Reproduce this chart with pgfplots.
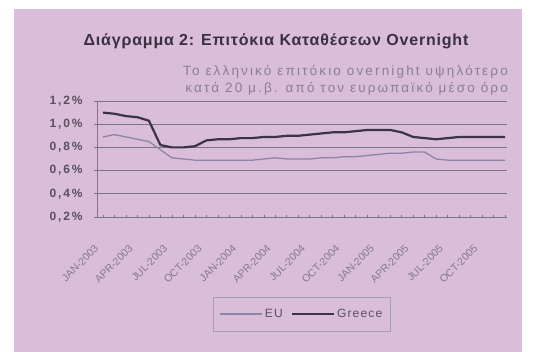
\documentclass[border=0pt]{standalone}
\usepackage{pgfplots}
\pgfplotsset{compat=1.18}
\usepackage{fontspec}
\setmainfont{Liberation Sans}
\newfontfamily\titlefont[LetterSpace=5]{Liberation Sans}
\newfontfamily\subfont[LetterSpace=16]{Liberation Sans}
\newfontfamily\tickfont[LetterSpace=15]{Liberation Sans}
\newfontfamily\legfont[LetterSpace=10]{Liberation Sans}
\definecolor{bg}{HTML}{D9BDD9}
\definecolor{greecec}{HTML}{3C3444}
\definecolor{euc}{HTML}{8C86A6}
\definecolor{gridc}{HTML}{7E7488}
\definecolor{titlec}{HTML}{3A3040}
\definecolor{subc}{HTML}{8A8092}
\definecolor{tickc}{HTML}{5A5060}
\definecolor{xtickc}{HTML}{857A8C}
\begin{document}
\begin{tikzpicture}
\path[use as bounding box] (0pt,0pt) rectangle (535pt,352pt);
\fill[white] (0pt,0pt) rectangle (535pt,352pt);
\fill[bg] (14pt,0pt) rectangle (522pt,343pt);
\node[font=\titlefont\bfseries\fontsize{16}{18}\selectfont, text=titlec, inner sep=0pt] at (276pt,311pt) {Διάγραμμα 2: Επιτόκια Καταθέσεων Overnight};
\node[anchor=east, inner sep=0pt, font=\subfont\fontsize{13.5}{15}\selectfont, text=subc] at (508pt,280pt) {Το ελληνικό επιτόκιο overnight υψηλότερο};
\node[anchor=east, inner sep=0pt, font=\subfont\fontsize{13.5}{15}\selectfont, text=subc] at (508pt,263pt) {κατά 20 μ.β. από τον ευρωπαϊκό μέσο όρο};
\begin{axis}[
  at={(97pt,135pt)}, anchor=south west,
  scale only axis, width=410pt, height=116pt,
  xmin=-0.52, xmax=35.17, ymin=0.2, ymax=1.2,
  axis x line*=bottom, axis y line*=left,
  axis line style={gridc, line width=0.8pt, -},
  ytick={0.2,0.4,0.6,0.8,1.0,1.2},
  yticklabels={{0,2\%},{0,4\%},{0,6\%},{0,8\%},{1,0\%},{1,2\%}},
  ymajorgrids, major grid style={gridc, line width=0.8pt},
  y tick label style={font=\tickfont\bfseries\fontsize{12}{14}\selectfont, text=tickc, xshift=-8pt},
  xtick={0,3,...,33},
  xticklabels={JAN-2003,APR-2003,JUL-2003,OCT-2003,JAN-2004,APR-2004,JUL-2004,OCT-2004,JAN-2005,APR-2005,JUL-2005,OCT-2005},
  minor xtick={0,1,...,35},
  x tick label style={font=\fontsize{10.5}{12}\selectfont, text=xtickc, xshift=-4pt, yshift=-26pt, rotate=45, anchor=east},
  tick style={gridc, line width=0.6pt},
  major tick length=3pt, minor tick length=3pt,
  xtick align=center, ytick align=outside,
  legend columns=2,
  legend style={at={(0.5,-0.836)}, anchor=center, draw=gridc!70, fill=bg, font=\legfont\fontsize{12}{14}\selectfont, text=tickc, inner xsep=6pt, inner ysep=10pt, /tikz/every even column/.append style={column sep=6pt}},
  legend image code/.code={\draw[#1] (0pt,0pt) -- (42pt,0pt);},
]
\addplot[euc, line width=1.3pt] coordinates {
(0,0.89)(1,0.91)(2,0.89)(3,0.87)(4,0.85)(5,0.78)(6,0.71)(7,0.70)(8,0.69)(9,0.69)
(10,0.69)(11,0.69)(12,0.69)(13,0.69)(14,0.70)(15,0.71)(16,0.70)(17,0.70)(18,0.70)(19,0.71)
(20,0.71)(21,0.72)(22,0.72)(23,0.73)(24,0.74)(25,0.75)(26,0.75)(27,0.76)(28,0.76)(29,0.70)
(30,0.69)(31,0.69)(32,0.69)(33,0.69)(34,0.69)(35,0.69)};
\addlegendentry{EU}
\addplot[greecec, line width=2.2pt] coordinates {
(0,1.10)(1,1.09)(2,1.07)(3,1.06)(4,1.03)(5,0.82)(6,0.80)(7,0.80)(8,0.81)(9,0.86)
(10,0.87)(11,0.87)(12,0.88)(13,0.88)(14,0.89)(15,0.89)(16,0.90)(17,0.90)(18,0.91)(19,0.92)
(20,0.93)(21,0.93)(22,0.94)(23,0.95)(24,0.95)(25,0.95)(26,0.93)(27,0.89)(28,0.88)(29,0.87)
(30,0.88)(31,0.89)(32,0.89)(33,0.89)(34,0.89)(35,0.89)};
\addlegendentry{Greece}
\end{axis}
\end{tikzpicture}
\end{document}
